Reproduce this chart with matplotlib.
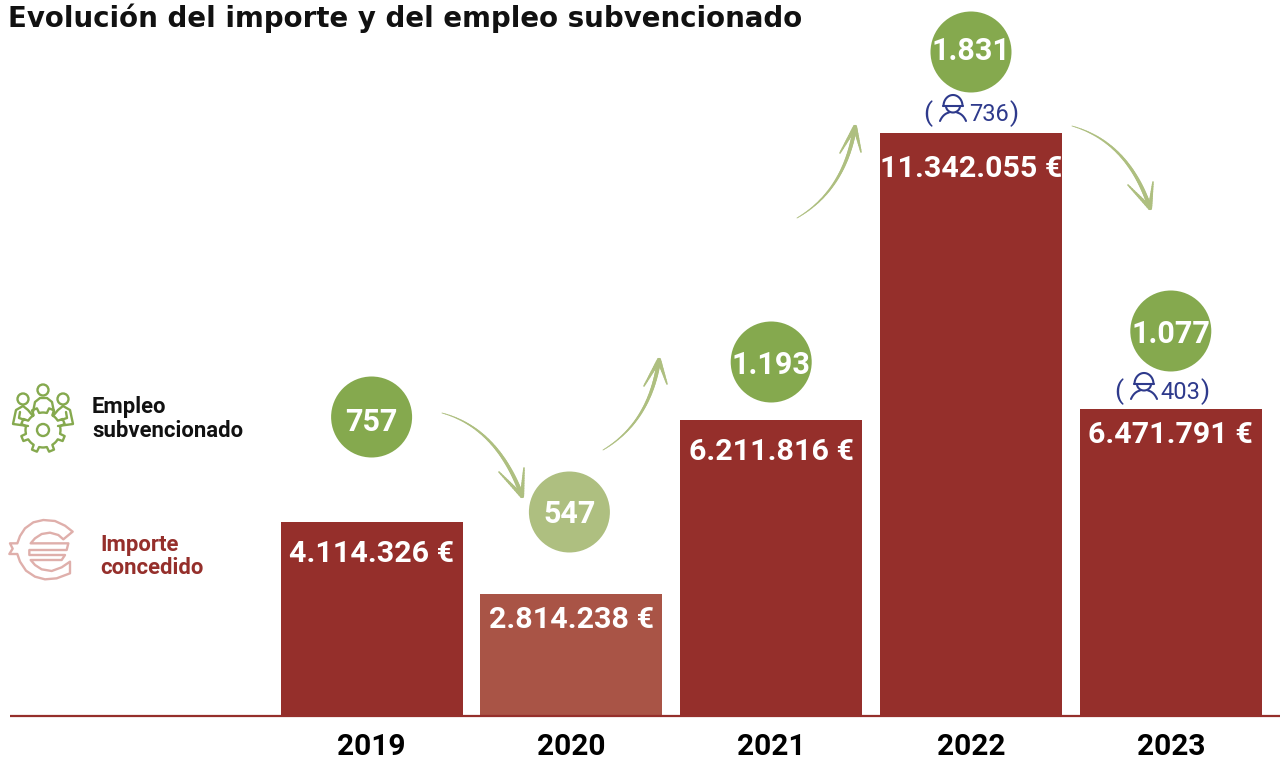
import numpy as np
import matplotlib
matplotlib.use("Agg")
import matplotlib.pyplot as plt
from matplotlib.collections import LineCollection
from matplotlib.patches import Circle, Polygon

# ---------- data ----------
years = ["2019", "2020", "2021", "2022", "2023"]
importe = [4114326, 2814238, 6211816, 11342055, 6471791]
empleo = [757, 547, 1193, 1831, 1077]
# bar heights as drawn in the picture (the original infographic is not strictly proportional)
altura_dibujada = [4074000, 2562000, 6216000, 12243000, 6447000]
empleo_detalle = {3: "736", 4: "403"}

# ---------- style ----------
ROJO = "#952F2B"
ROJO_CLARO = "#A95446"
VERDE = "#85A94E"
VERDE_CLARO = "#AEBF80"
ROSA = "#DFAFAB"
AZUL = "#2E3A8C"
FONT = "Roboto"

W, H = 1280, 757
EUR_PX = 21000.0
BASE_PX = 716
X0, DX = 371.6, 199.8

fig = plt.figure(figsize=(W / 100, H / 100), dpi=100, facecolor="white")
ax = fig.add_axes([0, 0, 1, 1])
ax.set_xlim((0 - X0) / DX, (W - X0) / DX)
ax.set_ylim(-(H - BASE_PX) * EUR_PX, BASE_PX * EUR_PX)
ax.axis("off")

ov = fig.add_axes([0, 0, 1, 1], zorder=5)
ov.set_xlim(0, W)
ov.set_ylim(H, 0)
ov.axis("off")
ov.patch.set_alpha(0)


def esp(n, suf=""):
    return f"{n:,}".replace(",", ".") + suf


x = np.arange(len(years))
colores = [ROJO, ROJO_CLARO, ROJO, ROJO, ROJO]
ax.bar(x, altura_dibujada, width=182 / DX, color=colores, linewidth=0, zorder=2)

# euro labels: offset below bar top (px)
off_lab = [30, 24, 30, 34, 24]
for i in x:
    ax.text(i, altura_dibujada[i] - off_lab[i] * EUR_PX + 1 * EUR_PX, esp(importe[i], " €"),
            color="white", fontsize=21.9, fontweight="bold", family=FONT,
            ha="center", va="center_baseline", zorder=4)
    ax.text(i, -28 * EUR_PX, years[i], color="black", fontsize=21.5,
            fontweight="bold", family=FONT, ha="center", va="center_baseline")

# bubbles: offset above bar top (px) and horizontal nudge
off_bub = [105, 82, 58, 81, 78]
nudge = [0, -2, 0, 0, 0]
bx = [i + nudge[i] / DX for i in x]
by = [altura_dibujada[i] + off_bub[i] * EUR_PX for i in x]
bub_col = [VERDE, VERDE_CLARO, VERDE, VERDE, VERDE]
ax.scatter(bx, by, s=(81 * 0.72) ** 2, c=bub_col, linewidths=0, zorder=3, clip_on=False)
off_txt = [-2, 1, 0, 4, 0]
for i in x:
    ax.text(bx[i], by[i] + off_txt[i] * EUR_PX, esp(empleo[i]), color="white", fontsize=22,
            fontweight="bold", family=FONT, ha="center", va="center_baseline", zorder=4)

# baseline
ax.plot([(10 - X0) / DX, (W - X0) / DX], [0, 0], color=ROJO, lw=1.6, zorder=5, solid_capstyle="butt")

# title
ov.text(8, 15, "Evolución del importe y del empleo subvencionado", fontsize=19.9,
        fontweight="bold", family="DejaVu Sans", color="#111111", ha="left", va="center_baseline")


# ---------- arrows ----------
def bez(p0, c, p1, n=30):
    t = np.linspace(0, 1, n)[:, None]
    p0, c, p1 = map(np.array, (p0, c, p1))
    return (1 - t) ** 2 * p0 + 2 * t * (1 - t) * c + t ** 2 * p1


def flecha(p0, c, p1, b1, b2):
    pts = bez(p0, c, p1, 60)
    segs = np.stack([pts[:-1], pts[1:]], axis=1)
    lw = np.linspace(0.6, 3.0, len(segs))
    ov.add_collection(LineCollection(segs, linewidths=lw, colors=VERDE_CLARO, capstyle="round"))
    for b in (b1, b2):
        q = np.linspace(b, p1, 12)
        s = np.stack([q[:-1], q[1:]], axis=1)
        ov.add_collection(LineCollection(s, linewidths=np.linspace(1.2, 3.0, 11),
                                         colors=VERDE_CLARO, capstyle="round"))


flecha((442, 413), (497, 428), (522, 496), (499, 472), (524, 468))
flecha((603, 450), (650, 422), (659, 360), (644, 386), (667, 384))
flecha((797, 218), (845, 190), (855, 127), (840, 153), (861, 152))
flecha((1072, 126), (1128, 142), (1150, 208), (1128, 185), (1153, 182))


# ---------- person annotations ----------
def persona(cx, cy):
    kw = dict(color=AZUL, lw=1.5, solid_capstyle="round")
    t = np.linspace(np.pi, 2 * np.pi, 30)
    by_ = cy - 6
    ov.plot(cx + 9.5 * np.cos(t), by_ + 11 * np.sin(t), **kw)
    ov.plot([cx - 10, cx + 10], [by_, by_], **kw)
    t2 = np.linspace(0, np.pi, 20)
    ov.plot(cx + 7 * np.cos(t2), by_ + 6.5 * np.sin(t2), **kw)
    for s in (-1, 1):
        b = bez((cx + s * 13, cy + 9), (cx + s * 10, cy + 2), (cx + s * 4, cy + 0.5), 15)
        ov.plot(b[:, 0], b[:, 1], **kw)


def detalle(cx, cy, txt):
    ov.text(cx - 42, cy - 1, "(", color=AZUL, fontsize=19, family=FONT, ha="center", va="center_baseline")
    persona(cx - 17, cy)
    ov.text(cx - 1, cy, txt, color=AZUL, fontsize=17, family=FONT, ha="left", va="center_baseline")
    ov.text(cx + 44, cy - 1, ")", color=AZUL, fontsize=19, family=FONT, ha="center", va="center_baseline")


detalle(970, 112, empleo_detalle[3])
detalle(1161, 390, empleo_detalle[4])

# ---------- legend ----------
LEG = 15.9
ov.text(92, 405, "Empleo", fontsize=LEG, fontweight="bold", family=FONT, color="#111111", va="center_baseline")
ov.text(92, 428.5, "subvencionado", fontsize=LEG, fontweight="bold", family=FONT, color="#111111", va="center_baseline")
ov.text(100, 542, "Importe", fontsize=LEG, fontweight="bold", family=FONT, color=ROJO, va="center_baseline")
ov.text(100, 566, "concedido", fontsize=LEG, fontweight="bold", family=FONT, color=ROJO, va="center_baseline")

# gear icon
GC = (43, 430)
GLW = 1.7
ang = np.linspace(0, 2 * np.pi, 8, endpoint=False) + np.pi / 8
verts = []
for a in ang:
    w = 0.17
    verts += [(a - 2 * w, 17.5), (a - w, 17.5), (a - w * 0.7, 22.5), (a + w * 0.7, 22.5), (a + w, 17.5), (a + 2 * w, 17.5)]
gear = [(GC[0] + r * np.cos(a), GC[1] + r * np.sin(a)) for a, r in verts]
ov.add_patch(Polygon(gear, closed=True, fill=False, ec=VERDE, lw=GLW, joinstyle="round"))
ov.add_patch(Circle(GC, 6, fill=False, ec=VERDE, lw=GLW))
for c in [(43, 390), (23, 399), (63, 399)]:
    ov.add_patch(Circle(c, 5.5, fill=False, ec=VERDE, lw=GLW))
gk = dict(color=VERDE, lw=GLW, solid_joinstyle="round", solid_capstyle="round")
ov.plot([33, 35, 40, 47, 52, 54], [412, 402, 398, 398, 402, 412], **gk)
for f in (lambda v: v, lambda v: 86 - v):
    ov.plot([f(v) for v in (33, 28, 23, 16, 13, 28)], [416, 410, 406, 410, 424, 426], **gk)
    ov.plot([f(v) for v in (20, 19, 25)], [412, 418, 420], **gk)

# euro icon (outline traced as one polygon)
euro = [(218, 65), (195, 47), (165, 33), (130, 30), (100, 37), (75, 55), (60, 78), (52, 100),
        (30, 100), (38, 116), (28, 132), (52, 132), (60, 155), (78, 182), (105, 200), (135, 208),
        (170, 205), (210, 190), (210, 155), (185, 172), (155, 183), (125, 178), (105, 165), (92, 150),
        (185, 150), (195, 135), (88, 135), (88, 120), (200, 120), (205, 100), (92, 100), (105, 85),
        (125, 72), (150, 68), (175, 75), (190, 88)]
ov.add_patch(Polygon([(a / 3, 510 + b / 3) for a, b in euro], closed=True, fill=False, ec=ROSA,
                     lw=1.7, joinstyle="round"))

fig.savefig("out.png", dpi=100, facecolor="white")
